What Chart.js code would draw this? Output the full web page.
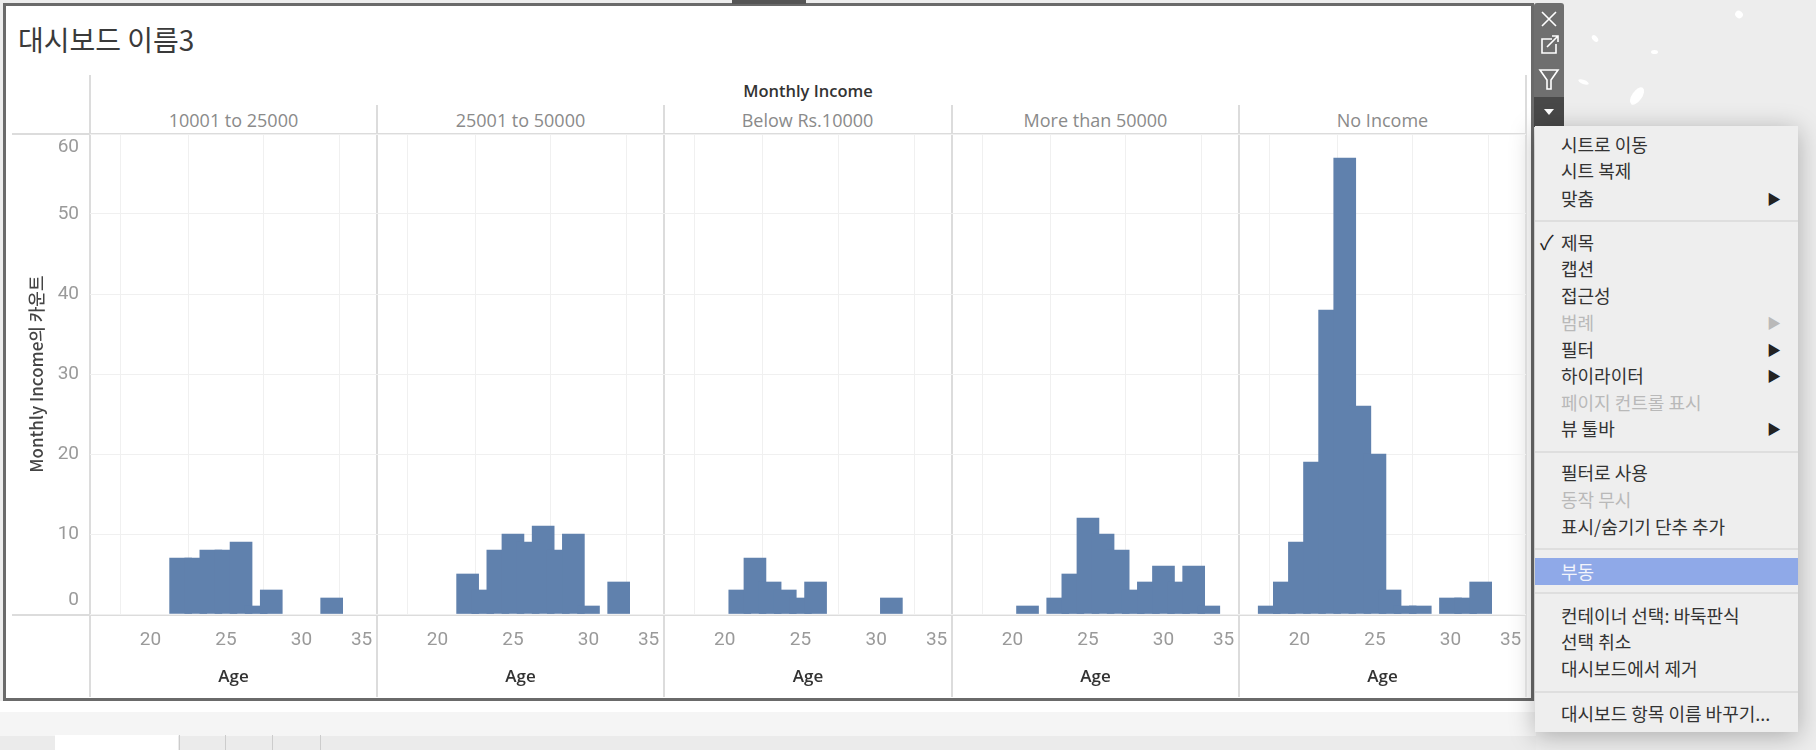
<!DOCTYPE html>
<html>
<head>
<meta charset="utf-8">
<script src="https://cdn.jsdelivr.net/npm/chart.js@4/dist/chart.umd.min.js"></script>
<style>
  html, body { margin: 0; padding: 0; }
  body { width: 1816px; height: 750px; overflow: hidden; position: relative; background: #ededed; font-family: "Noto Sans CJK KR", sans-serif; }
  .abs { position: absolute; }
  canvas { position: absolute; }
  #frame { left: 3px; top: 3px; width: 1525px; height: 692px; background: #fff; border: 3px solid #6a6a6a; }
  #below { left: 0; top: 701px; width: 1536px; height: 49px; background: linear-gradient(#fff 0 11px, #f5f5f5 11px 35px, #ebebeb 35px); }
  .line { background: #dcdcdc; }
  .strip { font: 18px "Open Sans", sans-serif; color: #8a8a8a; text-align: center; top: 108px; width: 287px; line-height: 24px; }
  #menu { left: 1535px; top: 126px; width: 263px; height: 606px; background: #eeeeee; box-shadow: 0 4px 24px rgba(0,0,0,.28); color: #333; font-size: 18px; }
  .item { position: absolute; left: 26px; line-height: 26px; white-space: nowrap; }
  .arrow { position: absolute; left: 232px; font-size: 14px; line-height: 26px; color: #222; }
  .sep { position: absolute; left: 0; width: 263px; height: 2px; background: #dedede; }
  .speck { background: #fff; border-radius: 50%; }
</style>
</head>
<body>
<div class="abs" id="frame"></div>
<div class="abs" id="below"></div>
<div class="abs" style="left:732px;top:0;width:74px;height:4px;background:#555"></div>
<div class="abs" style="left:55px;top:735px;width:123px;height:15px;background:#fff"></div>
<div class="abs" style="left:179px;top:735px;width:1px;height:15px;background:#ccc"></div>
<div class="abs" style="left:225px;top:735px;width:1px;height:15px;background:#ccc"></div>
<div class="abs" style="left:272px;top:735px;width:1px;height:15px;background:#ccc"></div>
<div class="abs" style="left:320px;top:735px;width:1px;height:15px;background:#ccc"></div>

<div class="abs speck" style="left:1735px;top:11px;width:8px;height:7px;transform:rotate(40deg)"></div>
<div class="abs speck" style="left:1591px;top:36px;width:8px;height:5px;transform:rotate(50deg)"></div>
<div class="abs speck" style="left:1651px;top:50px;width:7px;height:4px"></div>
<div class="abs speck" style="left:1578px;top:80px;width:11px;height:4px;transform:rotate(20deg)"></div>
<div class="abs speck" style="left:1632px;top:86px;width:10px;height:20px;transform:rotate(35deg)"></div>

<div class="abs" style="left:18px;top:18px;font-size:28px;line-height:42px;color:#3a3a3a">대시보드 이름3</div>
<div class="abs" style="left:90px;width:1436px;top:79px;text-align:center;font:600 16.5px 'Open Sans',sans-serif;line-height:24px;color:#333">Monthly Income</div>

<!-- toolbar at the top right of the frame -->
<div class="abs" style="left:1534px;top:3px;width:30px;height:94px;background:#6f6f6f;border-radius:3px 3px 0 0"></div>
<div class="abs" style="left:1534px;top:97px;width:30px;height:30px;background:#484848"></div>
<svg class="abs" style="left:1534px;top:3px" width="30" height="124" fill="none" stroke="#fff" stroke-width="1.6">
  <path d="M8 9 L22 23 M22 9 L8 23"/>
  <path d="M18 36 H8 V50 H22 V41 M13 44 L24 33 M18 33 H24 V39"/>
  <path d="M6 67 H24 L17 77 V86 H13 V77 Z"/>
  <path d="M10 106 H20 L15 112 Z" fill="#fff" stroke="none"/>
</svg>

<div class="abs" id="menu"></div>

<script>
const categories = ["10001 to 25000", "25001 to 50000", "Below Rs.10000", "More than 50000", "No Income"];

const ages1 = [22, 23, 24, 25, 26, 27, 28, 32];
const counts1 = [7, 7, 8, 8, 9, 1, 3, 2];
const ages2 = [22, 23, 24, 25, 26, 27, 28, 29, 30, 32];
const counts2 = [5, 3, 8, 10, 9, 11, 8, 10, 1, 4];
const ages3 = [21, 22, 23, 24, 25, 26, 31];
const counts3 = [3, 7, 4, 3, 2, 4, 2];
const ages4 = [21, 23, 24, 25, 26, 27, 28, 29, 30, 31, 32, 33];
const counts4 = [1, 2, 5, 12, 10, 8, 3, 4, 6, 4, 6, 1];
const ages5 = [18, 19, 20, 21, 22, 23, 24, 25, 26, 27, 28, 30, 31, 32];
const counts5 = [1, 4, 9, 19, 38, 57, 26, 20, 3, 1, 1, 2, 2, 4];

const agesByPanel = [ages1, ages2, ages3, ages4, ages5];
const countsByPanel = [counts1, counts2, counts3, counts4, counts5];

const xTicks = [16, 20, 25, 30, 35];

const menuRows = [
  ["시트로 이동", 144], ["시트 복제", 170], ["맞춤", 198, "a"],
  ["제목", 242], ["캡션", 268], ["접근성", 295], ["범례", 322, "ad"], ["필터", 349, "a"], ["하이라이터", 375, "a"],
  ["페이지 컨트롤 표시", 402, "d"], ["뷰 툴바", 428, "a"],
  ["필터로 사용", 472], ["동작 무시", 499, "d"], ["표시/숨기기 단추 추가", 526],
  ["부동", 571, "h"],
  ["컨테이너 선택: 바둑판식", 615], ["선택 취소", 641], ["대시보드에서 제거", 668],
  ["대시보드 항목 이름 바꾸기...", 713]
];
const menuSeps = [221, 452, 549, 593, 692];

const edges = [90, 377, 664, 952, 1239, 1526];
const chartTop = 124, chartBottom = 698, baseline = 614;
const barColor = "#6081ad";

// frame lines
function addLine(left, top, w, h) {
  const d = document.createElement("div");
  d.className = "abs line";
  d.style.cssText = `left:${left}px;top:${top}px;width:${w}px;height:${h}px`;
  document.body.appendChild(d);
}
addLine(12, 133, 1514, 2);
addLine(12, baseline, 1514, 2);
edges.forEach((x, i) => {
  const top = (i === 0 || i === 5) ? 75 : 105;
  addLine(x - 1, top, 2, 697 - top);
});

categories.forEach((c, i) => {
  const d = document.createElement("div");
  d.className = "abs strip";
  d.style.left = edges[i] + "px";
  d.textContent = c;
  document.body.appendChild(d);

  const first = i === 0;
  const left = first ? 12 : edges[i];
  const canvas = document.createElement("canvas");
  canvas.width = edges[i + 1] - left;
  canvas.height = chartBottom - chartTop;
  canvas.style.left = left + "px";
  canvas.style.top = chartTop + "px";
  document.body.appendChild(canvas);

  new Chart(canvas, {
    type: "bar",
    data: {
      datasets: [{
        data: agesByPanel[i].map((a, k) => ({ x: a, y: countsByPanel[i][k] })),
        backgroundColor: barColor,
        borderWidth: 0,
        barThickness: 22
      }]
    },
    options: {
      responsive: false,
      animation: false,
      layout: { autoPadding: false, padding: { top: 10 } },
      plugins: { legend: { display: false }, tooltip: { enabled: false } },
      scales: {
        x: {
          type: "linear",
          offset: false,
          min: 16,
          max: 35,
          afterBuildTicks: s => { s.ticks = xTicks.map(v => ({ value: v })); },
          afterFit: s => {
            s.height = chartBottom - baseline;
            s.paddingLeft = 0;
            s.paddingRight = 0;
          },
          border: { display: false },
          grid: { color: "#f0f0f0", drawTicks: false },
          ticks: {
            autoSkip: false,
            maxRotation: 0,
            align: "inner",
            padding: 15,
            color: "#9a9a9a",
            font: { family: "Roboto", size: 19 },
            callback: v => v === 16 ? "" : v === 35 ? "35 " : String(v)
          },
          title: {
            display: true,
            text: "Age",
            color: "#333",
            font: { family: "Open Sans", size: 17, weight: "600" },
            padding: { top: 0, bottom: 11 }
          }
        },
        y: {
          min: 0,
          max: 60,
          afterFit: s => {
            s.width = first ? edges[0] - left : 0;
            s.paddingTop = 0;
            s.paddingBottom = 0;
          },
          border: { display: false },
          grid: { color: "#f0f0f0", drawTicks: false },
          ticks: {
            display: first,
            stepSize: 10,
            padding: 11,
            color: "#9a9a9a",
            font: { family: "Roboto", size: 19, lineHeight: 1.4 },
            // the end labels sit inside the axis range
            callback: v => v === 60 ? ["", "60"] : v === 0 ? ["0", ""] : String(v)
          },
          title: {
            display: first,
            text: "Monthly Income의 카운트",
            color: "#444",
            font: { family: "Noto Sans CJK KR", size: 17, weight: "500" },
            padding: { top: 14, bottom: 0 }
          }
        }
      }
    }
  });
});

// context menu
const menu = document.getElementById("menu");
const hl = document.createElement("div");
hl.style.cssText = "position:absolute;left:0;top:432px;width:263px;height:27px;background:#8fa9e8";
menu.appendChild(hl);
menuSeps.forEach(y => {
  const s = document.createElement("div");
  s.className = "sep";
  s.style.top = (y - 126 - 1) + "px";
  menu.appendChild(s);
});
menuRows.forEach(([text, y, flag]) => {
  const top = y - 126 - 13;
  const f = flag || "";
  const el = document.createElement("div");
  el.className = "item";
  el.style.top = top + "px";
  el.style.color = f.includes("d") ? "#b9b9b9" : f.includes("h") ? "#f2f4fb" : "#333";
  el.textContent = text;
  menu.appendChild(el);
  if (f.includes("a")) {
    const ar = document.createElement("div");
    ar.className = "arrow";
    ar.style.top = top + "px";
    ar.style.color = f.includes("d") ? "#b9b9b9" : "#222";
    ar.textContent = "▶";
    menu.appendChild(ar);
  }
});
const chk = document.createElement("div");
chk.className = "item";
chk.style.cssText = "left:5px;top:103px;font-size:20px;color:#222";
chk.textContent = "✓";
menu.appendChild(chk);
</script>
</body>
</html>
